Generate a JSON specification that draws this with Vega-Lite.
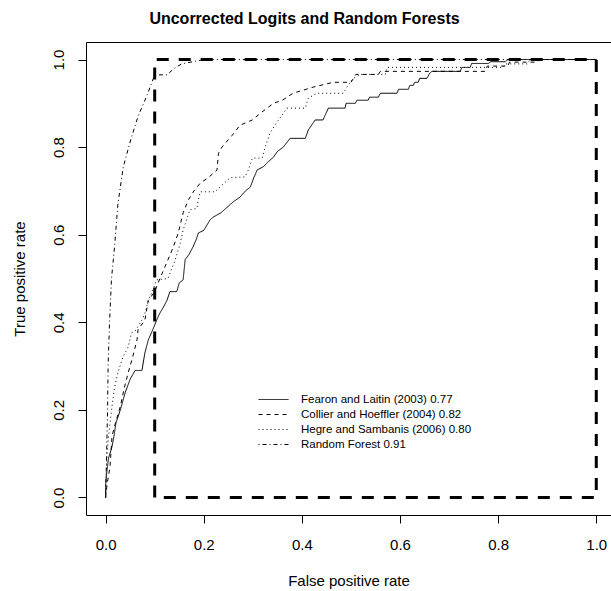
{
  "$schema": "https://vega.github.io/schema/vega-lite/v6.json",
  "autosize": "none",
  "width": 525,
  "height": 473,
  "padding": {"left": 86, "top": 42, "right": 0, "bottom": 76},
  "background": "white",
  "config": {
    "font": "Liberation Sans",
    "view": {"stroke": "black", "strokeWidth": 1},
    "axis": {"grid": false, "domain": false, "tickColor": "black", "tickSize": 8, "labelFontSize": 15, "titleFontSize": 15, "titleFontWeight": "normal", "labelColor": "black", "titleColor": "black", "labelFont": "Liberation Sans", "titleFont": "Liberation Sans"}
  },
  "title": {"text": "Uncorrected Logits and Random Forests", "fontSize": 16, "fontWeight": "bold", "font": "Liberation Sans", "anchor": "middle", "dx": -44, "offset": 15, "color": "black"},
  "datasets": {
    "box": [
      {"i": 0, "x": 0.1, "y": 0},
      {"i": 1, "x": 0.1, "y": 1},
      {"i": 2, "x": 1, "y": 1},
      {"i": 3, "x": 1, "y": 0},
      {"i": 4, "x": 0.1, "y": 0}
    ],
    "roc": [
      {"m": "Fearon and Laitin (2003) 0.77", "i": 0, "x": 0, "y": 0},
      {"m": "Fearon and Laitin (2003) 0.77", "i": 1, "x": 0.0, "y": 0.03},
      {"m": "Fearon and Laitin (2003) 0.77", "i": 2, "x": 0.003, "y": 0.064},
      {"m": "Fearon and Laitin (2003) 0.77", "i": 3, "x": 0.006, "y": 0.09},
      {"m": "Fearon and Laitin (2003) 0.77", "i": 4, "x": 0.013, "y": 0.116},
      {"m": "Fearon and Laitin (2003) 0.77", "i": 5, "x": 0.017, "y": 0.14},
      {"m": "Fearon and Laitin (2003) 0.77", "i": 6, "x": 0.021, "y": 0.17},
      {"m": "Fearon and Laitin (2003) 0.77", "i": 7, "x": 0.03, "y": 0.2},
      {"m": "Fearon and Laitin (2003) 0.77", "i": 8, "x": 0.04, "y": 0.24},
      {"m": "Fearon and Laitin (2003) 0.77", "i": 9, "x": 0.05, "y": 0.27},
      {"m": "Fearon and Laitin (2003) 0.77", "i": 10, "x": 0.06, "y": 0.29},
      {"m": "Fearon and Laitin (2003) 0.77", "i": 11, "x": 0.074, "y": 0.29},
      {"m": "Fearon and Laitin (2003) 0.77", "i": 12, "x": 0.08, "y": 0.33},
      {"m": "Fearon and Laitin (2003) 0.77", "i": 13, "x": 0.087, "y": 0.36},
      {"m": "Fearon and Laitin (2003) 0.77", "i": 14, "x": 0.095, "y": 0.38},
      {"m": "Fearon and Laitin (2003) 0.77", "i": 15, "x": 0.104, "y": 0.405},
      {"m": "Fearon and Laitin (2003) 0.77", "i": 16, "x": 0.11, "y": 0.42},
      {"m": "Fearon and Laitin (2003) 0.77", "i": 17, "x": 0.117, "y": 0.433},
      {"m": "Fearon and Laitin (2003) 0.77", "i": 18, "x": 0.125, "y": 0.45},
      {"m": "Fearon and Laitin (2003) 0.77", "i": 19, "x": 0.131, "y": 0.47},
      {"m": "Fearon and Laitin (2003) 0.77", "i": 20, "x": 0.145, "y": 0.47},
      {"m": "Fearon and Laitin (2003) 0.77", "i": 21, "x": 0.15, "y": 0.49},
      {"m": "Fearon and Laitin (2003) 0.77", "i": 22, "x": 0.158, "y": 0.497},
      {"m": "Fearon and Laitin (2003) 0.77", "i": 23, "x": 0.162, "y": 0.543},
      {"m": "Fearon and Laitin (2003) 0.77", "i": 24, "x": 0.17, "y": 0.555},
      {"m": "Fearon and Laitin (2003) 0.77", "i": 25, "x": 0.178, "y": 0.572},
      {"m": "Fearon and Laitin (2003) 0.77", "i": 26, "x": 0.185, "y": 0.59},
      {"m": "Fearon and Laitin (2003) 0.77", "i": 27, "x": 0.189, "y": 0.604},
      {"m": "Fearon and Laitin (2003) 0.77", "i": 28, "x": 0.2, "y": 0.61},
      {"m": "Fearon and Laitin (2003) 0.77", "i": 29, "x": 0.213, "y": 0.634},
      {"m": "Fearon and Laitin (2003) 0.77", "i": 30, "x": 0.219, "y": 0.64},
      {"m": "Fearon and Laitin (2003) 0.77", "i": 31, "x": 0.235, "y": 0.65},
      {"m": "Fearon and Laitin (2003) 0.77", "i": 32, "x": 0.248, "y": 0.663},
      {"m": "Fearon and Laitin (2003) 0.77", "i": 33, "x": 0.26, "y": 0.675},
      {"m": "Fearon and Laitin (2003) 0.77", "i": 34, "x": 0.274, "y": 0.686},
      {"m": "Fearon and Laitin (2003) 0.77", "i": 35, "x": 0.285, "y": 0.7},
      {"m": "Fearon and Laitin (2003) 0.77", "i": 36, "x": 0.295, "y": 0.709},
      {"m": "Fearon and Laitin (2003) 0.77", "i": 37, "x": 0.302, "y": 0.73},
      {"m": "Fearon and Laitin (2003) 0.77", "i": 38, "x": 0.309, "y": 0.748},
      {"m": "Fearon and Laitin (2003) 0.77", "i": 39, "x": 0.321, "y": 0.755},
      {"m": "Fearon and Laitin (2003) 0.77", "i": 40, "x": 0.33, "y": 0.765},
      {"m": "Fearon and Laitin (2003) 0.77", "i": 41, "x": 0.342, "y": 0.777},
      {"m": "Fearon and Laitin (2003) 0.77", "i": 42, "x": 0.35, "y": 0.79},
      {"m": "Fearon and Laitin (2003) 0.77", "i": 43, "x": 0.362, "y": 0.8},
      {"m": "Fearon and Laitin (2003) 0.77", "i": 44, "x": 0.376, "y": 0.82},
      {"m": "Fearon and Laitin (2003) 0.77", "i": 45, "x": 0.407, "y": 0.82},
      {"m": "Fearon and Laitin (2003) 0.77", "i": 46, "x": 0.413, "y": 0.839},
      {"m": "Fearon and Laitin (2003) 0.77", "i": 47, "x": 0.427, "y": 0.862},
      {"m": "Fearon and Laitin (2003) 0.77", "i": 48, "x": 0.443, "y": 0.862},
      {"m": "Fearon and Laitin (2003) 0.77", "i": 49, "x": 0.454, "y": 0.889},
      {"m": "Fearon and Laitin (2003) 0.77", "i": 50, "x": 0.488, "y": 0.889},
      {"m": "Fearon and Laitin (2003) 0.77", "i": 51, "x": 0.49, "y": 0.9},
      {"m": "Fearon and Laitin (2003) 0.77", "i": 52, "x": 0.509, "y": 0.9},
      {"m": "Fearon and Laitin (2003) 0.77", "i": 53, "x": 0.512, "y": 0.907},
      {"m": "Fearon and Laitin (2003) 0.77", "i": 54, "x": 0.535, "y": 0.907},
      {"m": "Fearon and Laitin (2003) 0.77", "i": 55, "x": 0.538, "y": 0.914},
      {"m": "Fearon and Laitin (2003) 0.77", "i": 56, "x": 0.556, "y": 0.914},
      {"m": "Fearon and Laitin (2003) 0.77", "i": 57, "x": 0.56, "y": 0.923},
      {"m": "Fearon and Laitin (2003) 0.77", "i": 58, "x": 0.594, "y": 0.923},
      {"m": "Fearon and Laitin (2003) 0.77", "i": 59, "x": 0.597, "y": 0.932},
      {"m": "Fearon and Laitin (2003) 0.77", "i": 60, "x": 0.617, "y": 0.932},
      {"m": "Fearon and Laitin (2003) 0.77", "i": 61, "x": 0.62, "y": 0.941},
      {"m": "Fearon and Laitin (2003) 0.77", "i": 62, "x": 0.627, "y": 0.941},
      {"m": "Fearon and Laitin (2003) 0.77", "i": 63, "x": 0.63, "y": 0.948},
      {"m": "Fearon and Laitin (2003) 0.77", "i": 64, "x": 0.637, "y": 0.948},
      {"m": "Fearon and Laitin (2003) 0.77", "i": 65, "x": 0.64, "y": 0.957},
      {"m": "Fearon and Laitin (2003) 0.77", "i": 66, "x": 0.655, "y": 0.957},
      {"m": "Fearon and Laitin (2003) 0.77", "i": 67, "x": 0.66, "y": 0.968},
      {"m": "Fearon and Laitin (2003) 0.77", "i": 68, "x": 0.665, "y": 0.973},
      {"m": "Fearon and Laitin (2003) 0.77", "i": 69, "x": 0.723, "y": 0.973},
      {"m": "Fearon and Laitin (2003) 0.77", "i": 70, "x": 0.726, "y": 0.982},
      {"m": "Fearon and Laitin (2003) 0.77", "i": 71, "x": 0.743, "y": 0.982},
      {"m": "Fearon and Laitin (2003) 0.77", "i": 72, "x": 0.746, "y": 0.991},
      {"m": "Fearon and Laitin (2003) 0.77", "i": 73, "x": 0.78, "y": 0.991},
      {"m": "Fearon and Laitin (2003) 0.77", "i": 74, "x": 0.785, "y": 0.995},
      {"m": "Fearon and Laitin (2003) 0.77", "i": 75, "x": 0.815, "y": 0.995},
      {"m": "Fearon and Laitin (2003) 0.77", "i": 76, "x": 0.82, "y": 1.0},
      {"m": "Fearon and Laitin (2003) 0.77", "i": 77, "x": 1, "y": 1},

      {"m": "Collier and Hoeffler (2004) 0.82", "i": 0, "x": 0, "y": 0},
      {"m": "Collier and Hoeffler (2004) 0.82", "i": 1, "x": 0.003, "y": 0.03},
      {"m": "Collier and Hoeffler (2004) 0.82", "i": 2, "x": 0.009, "y": 0.07},
      {"m": "Collier and Hoeffler (2004) 0.82", "i": 3, "x": 0.013, "y": 0.14},
      {"m": "Collier and Hoeffler (2004) 0.82", "i": 4, "x": 0.02, "y": 0.17},
      {"m": "Collier and Hoeffler (2004) 0.82", "i": 5, "x": 0.03, "y": 0.208},
      {"m": "Collier and Hoeffler (2004) 0.82", "i": 6, "x": 0.038, "y": 0.25},
      {"m": "Collier and Hoeffler (2004) 0.82", "i": 7, "x": 0.046, "y": 0.285},
      {"m": "Collier and Hoeffler (2004) 0.82", "i": 8, "x": 0.055, "y": 0.32},
      {"m": "Collier and Hoeffler (2004) 0.82", "i": 9, "x": 0.064, "y": 0.36},
      {"m": "Collier and Hoeffler (2004) 0.82", "i": 10, "x": 0.066, "y": 0.383},
      {"m": "Collier and Hoeffler (2004) 0.82", "i": 11, "x": 0.08, "y": 0.405},
      {"m": "Collier and Hoeffler (2004) 0.82", "i": 12, "x": 0.087, "y": 0.45},
      {"m": "Collier and Hoeffler (2004) 0.82", "i": 13, "x": 0.1, "y": 0.47},
      {"m": "Collier and Hoeffler (2004) 0.82", "i": 14, "x": 0.107, "y": 0.49},
      {"m": "Collier and Hoeffler (2004) 0.82", "i": 15, "x": 0.121, "y": 0.527},
      {"m": "Collier and Hoeffler (2004) 0.82", "i": 16, "x": 0.138, "y": 0.572},
      {"m": "Collier and Hoeffler (2004) 0.82", "i": 17, "x": 0.148, "y": 0.604},
      {"m": "Collier and Hoeffler (2004) 0.82", "i": 18, "x": 0.158, "y": 0.65},
      {"m": "Collier and Hoeffler (2004) 0.82", "i": 19, "x": 0.166, "y": 0.672},
      {"m": "Collier and Hoeffler (2004) 0.82", "i": 20, "x": 0.169, "y": 0.68},
      {"m": "Collier and Hoeffler (2004) 0.82", "i": 21, "x": 0.18, "y": 0.7},
      {"m": "Collier and Hoeffler (2004) 0.82", "i": 22, "x": 0.193, "y": 0.718},
      {"m": "Collier and Hoeffler (2004) 0.82", "i": 23, "x": 0.209, "y": 0.73},
      {"m": "Collier and Hoeffler (2004) 0.82", "i": 24, "x": 0.227, "y": 0.748},
      {"m": "Collier and Hoeffler (2004) 0.82", "i": 25, "x": 0.23, "y": 0.786},
      {"m": "Collier and Hoeffler (2004) 0.82", "i": 26, "x": 0.237, "y": 0.8},
      {"m": "Collier and Hoeffler (2004) 0.82", "i": 27, "x": 0.258, "y": 0.827},
      {"m": "Collier and Hoeffler (2004) 0.82", "i": 28, "x": 0.274, "y": 0.85},
      {"m": "Collier and Hoeffler (2004) 0.82", "i": 29, "x": 0.299, "y": 0.862},
      {"m": "Collier and Hoeffler (2004) 0.82", "i": 30, "x": 0.315, "y": 0.877},
      {"m": "Collier and Hoeffler (2004) 0.82", "i": 31, "x": 0.342, "y": 0.9},
      {"m": "Collier and Hoeffler (2004) 0.82", "i": 32, "x": 0.36, "y": 0.907},
      {"m": "Collier and Hoeffler (2004) 0.82", "i": 33, "x": 0.382, "y": 0.923},
      {"m": "Collier and Hoeffler (2004) 0.82", "i": 34, "x": 0.423, "y": 0.937},
      {"m": "Collier and Hoeffler (2004) 0.82", "i": 35, "x": 0.464, "y": 0.948},
      {"m": "Collier and Hoeffler (2004) 0.82", "i": 36, "x": 0.5, "y": 0.948},
      {"m": "Collier and Hoeffler (2004) 0.82", "i": 37, "x": 0.51, "y": 0.966},
      {"m": "Collier and Hoeffler (2004) 0.82", "i": 38, "x": 0.556, "y": 0.966},
      {"m": "Collier and Hoeffler (2004) 0.82", "i": 39, "x": 0.56, "y": 0.973},
      {"m": "Collier and Hoeffler (2004) 0.82", "i": 40, "x": 0.774, "y": 0.973},
      {"m": "Collier and Hoeffler (2004) 0.82", "i": 41, "x": 0.778, "y": 0.985},
      {"m": "Collier and Hoeffler (2004) 0.82", "i": 42, "x": 0.82, "y": 0.985},
      {"m": "Collier and Hoeffler (2004) 0.82", "i": 43, "x": 0.823, "y": 0.994},
      {"m": "Collier and Hoeffler (2004) 0.82", "i": 44, "x": 0.88, "y": 0.994},
      {"m": "Collier and Hoeffler (2004) 0.82", "i": 45, "x": 0.883, "y": 1.0},
      {"m": "Collier and Hoeffler (2004) 0.82", "i": 46, "x": 1, "y": 1},

      {"m": "Hegre and Sambanis (2006) 0.80", "i": 0, "x": 0, "y": 0},
      {"m": "Hegre and Sambanis (2006) 0.80", "i": 1, "x": 0.001, "y": 0.05},
      {"m": "Hegre and Sambanis (2006) 0.80", "i": 2, "x": 0.003, "y": 0.1},
      {"m": "Hegre and Sambanis (2006) 0.80", "i": 3, "x": 0.005, "y": 0.13},
      {"m": "Hegre and Sambanis (2006) 0.80", "i": 4, "x": 0.009, "y": 0.17},
      {"m": "Hegre and Sambanis (2006) 0.80", "i": 5, "x": 0.013, "y": 0.208},
      {"m": "Hegre and Sambanis (2006) 0.80", "i": 6, "x": 0.018, "y": 0.25},
      {"m": "Hegre and Sambanis (2006) 0.80", "i": 7, "x": 0.025, "y": 0.285},
      {"m": "Hegre and Sambanis (2006) 0.80", "i": 8, "x": 0.035, "y": 0.32},
      {"m": "Hegre and Sambanis (2006) 0.80", "i": 9, "x": 0.046, "y": 0.344},
      {"m": "Hegre and Sambanis (2006) 0.80", "i": 10, "x": 0.053, "y": 0.376},
      {"m": "Hegre and Sambanis (2006) 0.80", "i": 11, "x": 0.06, "y": 0.38},
      {"m": "Hegre and Sambanis (2006) 0.80", "i": 12, "x": 0.074, "y": 0.405},
      {"m": "Hegre and Sambanis (2006) 0.80", "i": 13, "x": 0.08, "y": 0.42},
      {"m": "Hegre and Sambanis (2006) 0.80", "i": 14, "x": 0.087, "y": 0.45},
      {"m": "Hegre and Sambanis (2006) 0.80", "i": 15, "x": 0.095, "y": 0.47},
      {"m": "Hegre and Sambanis (2006) 0.80", "i": 16, "x": 0.104, "y": 0.497},
      {"m": "Hegre and Sambanis (2006) 0.80", "i": 17, "x": 0.127, "y": 0.5},
      {"m": "Hegre and Sambanis (2006) 0.80", "i": 18, "x": 0.142, "y": 0.543},
      {"m": "Hegre and Sambanis (2006) 0.80", "i": 19, "x": 0.152, "y": 0.58},
      {"m": "Hegre and Sambanis (2006) 0.80", "i": 20, "x": 0.158, "y": 0.611},
      {"m": "Hegre and Sambanis (2006) 0.80", "i": 21, "x": 0.172, "y": 0.657},
      {"m": "Hegre and Sambanis (2006) 0.80", "i": 22, "x": 0.186, "y": 0.66},
      {"m": "Hegre and Sambanis (2006) 0.80", "i": 23, "x": 0.189, "y": 0.68},
      {"m": "Hegre and Sambanis (2006) 0.80", "i": 24, "x": 0.193, "y": 0.698},
      {"m": "Hegre and Sambanis (2006) 0.80", "i": 25, "x": 0.223, "y": 0.698},
      {"m": "Hegre and Sambanis (2006) 0.80", "i": 26, "x": 0.233, "y": 0.709},
      {"m": "Hegre and Sambanis (2006) 0.80", "i": 27, "x": 0.254, "y": 0.73},
      {"m": "Hegre and Sambanis (2006) 0.80", "i": 28, "x": 0.284, "y": 0.732},
      {"m": "Hegre and Sambanis (2006) 0.80", "i": 29, "x": 0.291, "y": 0.748},
      {"m": "Hegre and Sambanis (2006) 0.80", "i": 30, "x": 0.299, "y": 0.775},
      {"m": "Hegre and Sambanis (2006) 0.80", "i": 31, "x": 0.319, "y": 0.775},
      {"m": "Hegre and Sambanis (2006) 0.80", "i": 32, "x": 0.325, "y": 0.8},
      {"m": "Hegre and Sambanis (2006) 0.80", "i": 33, "x": 0.335, "y": 0.832},
      {"m": "Hegre and Sambanis (2006) 0.80", "i": 34, "x": 0.349, "y": 0.857},
      {"m": "Hegre and Sambanis (2006) 0.80", "i": 35, "x": 0.37, "y": 0.889},
      {"m": "Hegre and Sambanis (2006) 0.80", "i": 36, "x": 0.407, "y": 0.889},
      {"m": "Hegre and Sambanis (2006) 0.80", "i": 37, "x": 0.413, "y": 0.912},
      {"m": "Hegre and Sambanis (2006) 0.80", "i": 38, "x": 0.431, "y": 0.923},
      {"m": "Hegre and Sambanis (2006) 0.80", "i": 39, "x": 0.484, "y": 0.923},
      {"m": "Hegre and Sambanis (2006) 0.80", "i": 40, "x": 0.494, "y": 0.941},
      {"m": "Hegre and Sambanis (2006) 0.80", "i": 41, "x": 0.505, "y": 0.957},
      {"m": "Hegre and Sambanis (2006) 0.80", "i": 42, "x": 0.52, "y": 0.966},
      {"m": "Hegre and Sambanis (2006) 0.80", "i": 43, "x": 0.57, "y": 0.966},
      {"m": "Hegre and Sambanis (2006) 0.80", "i": 44, "x": 0.574, "y": 0.982},
      {"m": "Hegre and Sambanis (2006) 0.80", "i": 45, "x": 0.81, "y": 0.982},
      {"m": "Hegre and Sambanis (2006) 0.80", "i": 46, "x": 0.815, "y": 0.99},
      {"m": "Hegre and Sambanis (2006) 0.80", "i": 47, "x": 0.86, "y": 0.99},
      {"m": "Hegre and Sambanis (2006) 0.80", "i": 48, "x": 0.865, "y": 1.0},
      {"m": "Hegre and Sambanis (2006) 0.80", "i": 49, "x": 1, "y": 1},

      {"m": "Random Forest 0.91", "i": 0, "x": 0, "y": 0},
      {"m": "Random Forest 0.91", "i": 1, "x": 0.002, "y": 0.1},
      {"m": "Random Forest 0.91", "i": 2, "x": 0.004, "y": 0.2},
      {"m": "Random Forest 0.91", "i": 3, "x": 0.005, "y": 0.3},
      {"m": "Random Forest 0.91", "i": 4, "x": 0.008, "y": 0.4},
      {"m": "Random Forest 0.91", "i": 5, "x": 0.012, "y": 0.5},
      {"m": "Random Forest 0.91", "i": 6, "x": 0.018, "y": 0.57},
      {"m": "Random Forest 0.91", "i": 7, "x": 0.025, "y": 0.67},
      {"m": "Random Forest 0.91", "i": 8, "x": 0.036, "y": 0.755},
      {"m": "Random Forest 0.91", "i": 9, "x": 0.052, "y": 0.82},
      {"m": "Random Forest 0.91", "i": 10, "x": 0.066, "y": 0.87},
      {"m": "Random Forest 0.91", "i": 11, "x": 0.085, "y": 0.92},
      {"m": "Random Forest 0.91", "i": 12, "x": 0.1, "y": 0.965},
      {"m": "Random Forest 0.91", "i": 13, "x": 0.125, "y": 0.965},
      {"m": "Random Forest 0.91", "i": 14, "x": 0.14, "y": 0.98},
      {"m": "Random Forest 0.91", "i": 15, "x": 0.155, "y": 0.99},
      {"m": "Random Forest 0.91", "i": 16, "x": 0.2, "y": 1.0},
      {"m": "Random Forest 0.91", "i": 17, "x": 1, "y": 1}
    ]
  },
  "layer": [
    {
      "data": {"name": "roc"},
      "mark": {"type": "line", "color": "black", "strokeWidth": 1, "clip": true},
      "encoding": {
        "x": {"field": "x", "type": "quantitative", "scale": {"domain": [-0.04, 1.03], "nice": false, "zero": false},
              "axis": {"values": [0, 0.2, 0.4, 0.6, 0.8, 1], "format": ".1f", "title": "False positive rate", "labelPadding": 14, "titlePadding": 21}},
        "y": {"field": "y", "type": "quantitative", "scale": {"domain": [-0.04, 1.04], "nice": false, "zero": false},
              "axis": {"values": [0, 0.2, 0.4, 0.6, 0.8, 1], "format": ".1f", "title": "True positive rate", "labelAngle": 270, "labelAlign": "center", "labelBaseline": "bottom", "labelPadding": 12, "titlePadding": 24}},
        "order": {"field": "i", "type": "quantitative"},
        "strokeDash": {"field": "m", "type": "nominal",
          "scale": {"domain": ["Fearon and Laitin (2003) 0.77", "Collier and Hoeffler (2004) 0.82", "Hegre and Sambanis (2006) 0.80", "Random Forest 0.91"],
                    "range": [[1, 0], [4, 4], [1, 3], [1, 3, 4, 3]]},
          "legend": {"title": null, "orient": "none", "legendX": 172, "legendY": 350, "symbolType": "stroke", "symbolSize": 900, "symbolStrokeWidth": 1, "symbolStrokeColor": "black", "labelFontSize": 11.5, "labelFont": "Liberation Sans", "labelColor": "black", "labelOffset": 12, "labelLimit": 400, "clipHeight": 15, "rowPadding": 0}}
      }
    },
    {
      "data": {"name": "box"},
      "mark": {"type": "line", "color": "black", "strokeWidth": 3, "strokeDash": [12, 10]},
      "encoding": {
        "x": {"field": "x", "type": "quantitative"},
        "y": {"field": "y", "type": "quantitative"},
        "order": {"field": "i", "type": "quantitative"}
      }
    }
  ]
}
